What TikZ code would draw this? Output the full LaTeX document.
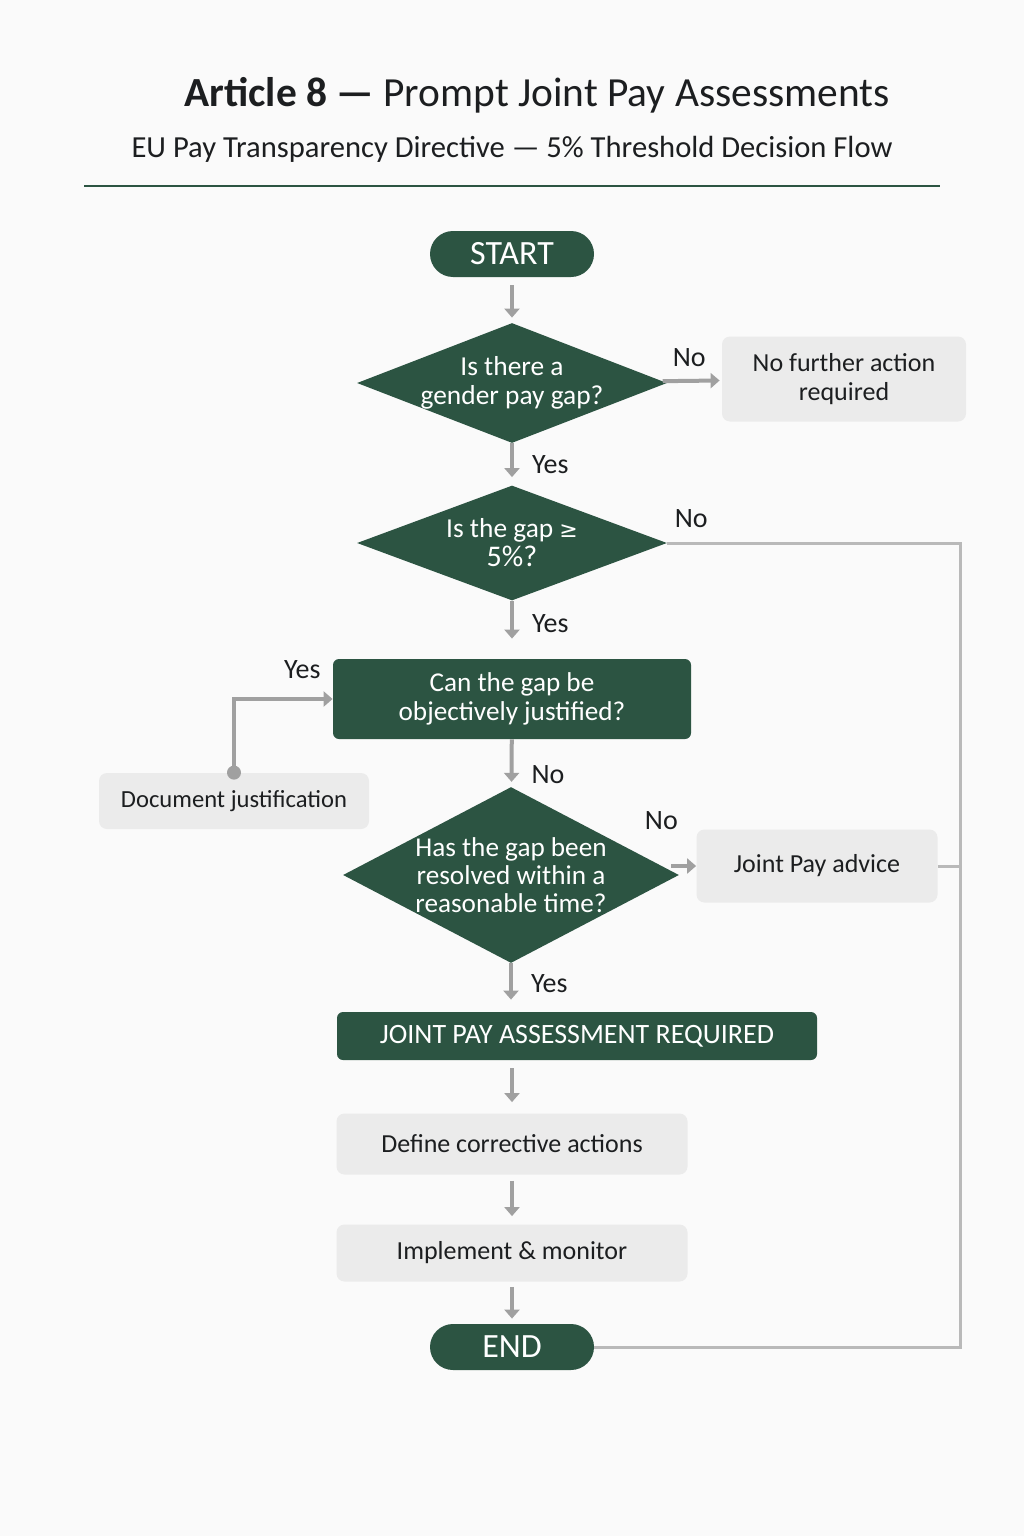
\documentclass[tikz,border=0pt]{standalone}
\usepackage{fontspec}
\setmainfont{Carlito}
\newfontfamily\symfont{DejaVu Sans}
\usetikzlibrary{arrows.meta,shapes.geometric,positioning}
\definecolor{dg}{RGB}{44,84,66}
\definecolor{lg}{RGB}{235,235,235}
\definecolor{ln}{RGB}{160,160,160}
\definecolor{lln}{RGB}{185,185,185}
\definecolor{bg}{RGB}{250,250,250}
\definecolor{tx}{RGB}{28,30,32}
\tikzstyle{term}=[rounded corners=11.5pt,fill=dg,text=white,minimum width=82pt,minimum height=23pt,font=\fontsize{17}{20}\selectfont]
\tikzstyle{dec}=[diamond,fill=dg,inner sep=0pt,minimum width=155pt,minimum height=60pt]
\tikzstyle{dtxt}=[text=white,align=center,font=\fontsize{13.7}{14.5}\selectfont]
\tikzstyle{gbox}=[rounded corners=3pt,fill=dg,text=white,align=center,font=\fontsize{13.6}{14.5}\selectfont]
\tikzstyle{lbox}=[rounded corners=4pt,fill=lg,text=tx,align=center,font=\fontsize{13}{14.5}\selectfont]
\tikzstyle{lbl}=[text=tx,inner sep=1pt,font=\fontsize{14}{16}\selectfont]
\tikzstyle{flow}=[->,color=ln,line width=2pt]

\begin{document}
\begin{tikzpicture}[x=0.5pt,y=-0.5pt,>={Triangle[length=4.5pt,width=7.5pt]}]
	\fill[bg] (0,0) rectangle (1024,1536);
	\node[text=tx,font=\fontsize{20.7}{25}\selectfont] (title) at (537,95) {\textbf{Article 8 —} Prompt Joint Pay Assessments};
	\node[text=tx,font=\fontsize{15.3}{18}\selectfont] (sub) at (512,149) {EU Pay Transparency Directive — 5\% Threshold Decision Flow};
	\draw[dg,line width=1pt] (84,186) -- (940,186);

	\node[term] (start) at (512,254) {START};
	\node[dec,label={[dtxt]center:{Is there a\\gender pay gap?}}] (gap) at (512,383) {};
	\node[lbox,minimum width=122pt,minimum height=42.5pt] (nfa) at (844,379) {No further action\\required};
	\node[dec,minimum height=57.5pt,label={[dtxt]center:{Is the gap {\symfont\fontsize{11}{13}\selectfont ≥}\\{\fontsize{15}{17}\selectfont 5\%?}}}] (five) at (512,543) {};
	\node[gbox,minimum width=179pt,minimum height=40pt] (just) at (512,699) {Can the gap be\\objectively justified?};
	\node[lbox,minimum width=135pt,minimum height=28pt,font=\fontsize{12.3}{15}\selectfont] (doc) at (234,801) {Document justification};
	\node[dec,minimum width=168pt,minimum height=88pt,label={[dtxt,font=\fontsize{13.6}{14}\selectfont]center:{Has the gap been\\resolved within a\\reasonable time?}}] (res) at (511,875) {};
	\node[lbox,minimum width=120.5pt,minimum height=36.5pt] (adv) at (817,866) {Joint Pay advice};
	\node[gbox,minimum width=240pt,minimum height=24pt,font=\fontsize{14}{16}\selectfont] (jpa) at (577,1036) {JOINT PAY ASSESSMENT REQUIRED};
	\node[lbox,minimum width=175.5pt,minimum height=30.5pt] (def) at (512,1144) {Define corrective actions};
	\node[lbox,minimum width=175.5pt,minimum height=28.5pt] (imp) at (512,1253) {Implement \& monitor};
	\node[term] (end) at (512,1347) {END};
	\coordinate (rt) at (960,543);

	\path[every edge/.style={draw,flow}]
		(start)	edge[shorten <=4pt,shorten >=2.5pt]	(gap)
		(gap)	edge[shorten >=1pt]	node[lbl,above=5pt,pos=.45]{No}	(nfa)
		(gap)	edge[shorten >=4pt]	node[lbl,right=8pt,pos=.5]{Yes}	(five)
		(five)	edge[shorten >=10pt]	node[lbl,right=8pt,pos=.4]{Yes}	(just)
		(just)	edge[shorten >=2.5pt]	node[lbl,right=8pt,pos=.75]{No}	(res)
		(res.east |- adv.west)	edge[shorten <=-4pt]	node[lbl,pos=0,above=16pt,xshift=-9pt]{No}	(adv.west)
		(res)	edge[shorten >=6pt]	node[lbl,right=8pt,pos=.42]{Yes}	(res.south |- jpa.north)
		(def.north |- jpa.south)	edge[shorten <=4pt,shorten >=5.5pt]	(def)
		(def)	edge[shorten <=3pt,shorten >=4pt]	(imp)
		(imp)	edge[shorten <=2.5pt,shorten >=2.5pt]	(end);
	\draw[lln,line width=1.5pt] (five.east) node[lbl,above right=6pt and 2pt]{No} -- (rt) |- (end.east);
	\draw[lln,line width=1.5pt] (adv.east) -- (adv.east -| rt);
	\draw[flow] (doc.north) |- node[lbl,pos=1,above left=8pt and 4pt]{Yes} (just.west);
	\fill[ln] (doc.north) circle (3.5pt);
\end{tikzpicture}
\end{document}
